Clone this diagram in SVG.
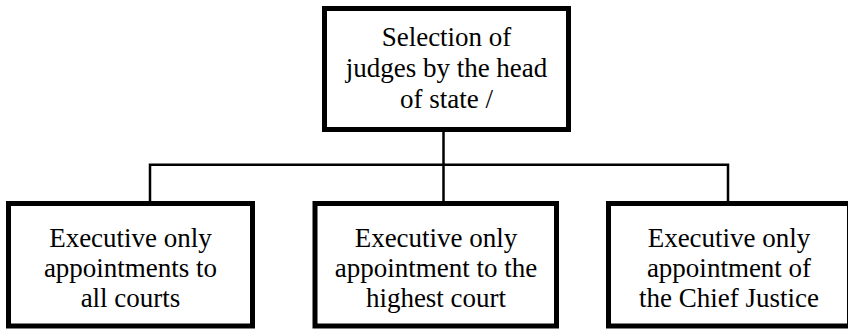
<svg xmlns="http://www.w3.org/2000/svg" width="848" height="329" viewBox="0 0 848 329">
<style>
.box{fill:#fff;stroke:#000;stroke-width:5}
.conn{fill:none;stroke:#000;stroke-width:2.5}
.t{font-family:'Liberation Serif','Times New Roman',Times,'DejaVu Serif',serif;font-size:27px;fill:#000;text-anchor:middle}
</style>
<rect width="848" height="329" fill="#fff"/>
<g id="connectors">
<line class="conn" x1="443.5" y1="131" x2="443.5" y2="202"/>
<polyline class="conn" points="150,202 150,164.7 728,164.7 728,202"/>
</g>
<g id="top" class="t" font-family="Liberation Serif, serif">
<rect class="box" x="324.5" y="8.5" width="244" height="121"/>
<text x="446.5" y="46">Selection of</text>
<text x="446.5" y="77">judges by the head</text>
<text x="446.5" y="107.5">of state /</text>
</g>
<g id="left" class="t" font-family="Liberation Serif, serif">
<rect class="box" x="8.5" y="203.5" width="244" height="122.5"/>
<text x="130.5" y="246.5">Executive only</text>
<text x="130.5" y="277">appointments to</text>
<text x="130.5" y="307">all courts</text>
</g>
<g id="middle" class="t" font-family="Liberation Serif, serif">
<rect class="box" x="315" y="203.5" width="241.5" height="122.5"/>
<text x="436" y="246.5">Executive only</text>
<text x="436" y="277">appointment to the</text>
<text x="436" y="307">highest court</text>
</g>
<g id="right" class="t" font-family="Liberation Serif, serif">
<rect class="box" x="608.5" y="203.5" width="241" height="122.5"/>
<text x="729" y="246.5">Executive only</text>
<text x="729" y="277">appointment of</text>
<text x="729" y="307">the Chief Justice</text>
</g>
</svg>
